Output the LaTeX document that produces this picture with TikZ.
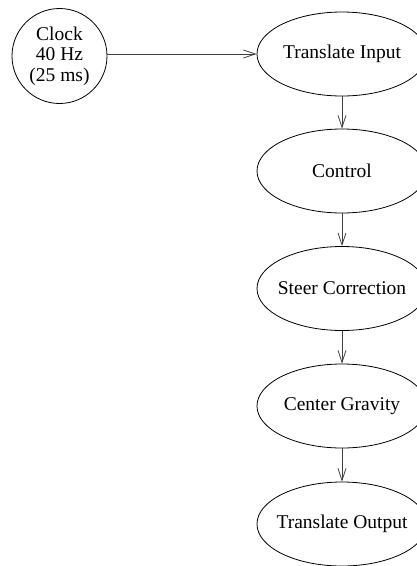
\documentclass[tikz,border=0pt]{standalone}
\usepackage{fontspec}
\setmainfont{Liberation Serif}
\usetikzlibrary{shapes.geometric,arrows.meta}
% zero-width label so every task ellipse keeps the same fixed size
\newcommand{\tasklabel}[1]{\makebox[0pt]{#1}}
\begin{document}
\begin{tikzpicture}[x=1pt,y=-1pt,
  every node/.style={font=\fontsize{19.5}{20.5}\selectfont, align=center, inner sep=0pt},
  task/.style={draw, ellipse, line width=0.8pt, minimum width=170pt, minimum height=84pt},
  clocknode/.style={draw, circle, line width=0.8pt, minimum size=95pt},
  flow/.style={draw=black!75, line width=0.8pt, -{Straight Barb[length=12pt,width=8pt,line width=0.8pt]}}]
  \useasboundingbox (0,0) rectangle (417,566);
  \clip (0,0) rectangle (417,566);
  % timer source
  \node[clocknode] (clock) at (59.5,56) {Clock\\40 Hz\\(25 ms)};
  % processing chain
  \node[task] (ti) at (342,54) {\tasklabel{Translate Input}};
  \node[task] (ctl) at (342,171) {\tasklabel{Control}};
  \node[task] (sc) at (342,288.5) {\tasklabel{Steer Correction}};
  \node[task] (cg) at (342,406) {\tasklabel{Center Gravity}};
  \node[task] (to) at (342,524) {\tasklabel{Translate Output}};
  % connectors
  \draw[flow] (clock.east |- ti.west) -- (ti.west);
  \draw[flow] (ti) -- (ctl);
  \draw[flow] (ctl) -- (sc);
  \draw[flow] (sc) -- (cg);
  \draw[flow] (cg) -- (to);
\end{tikzpicture}
\end{document}
